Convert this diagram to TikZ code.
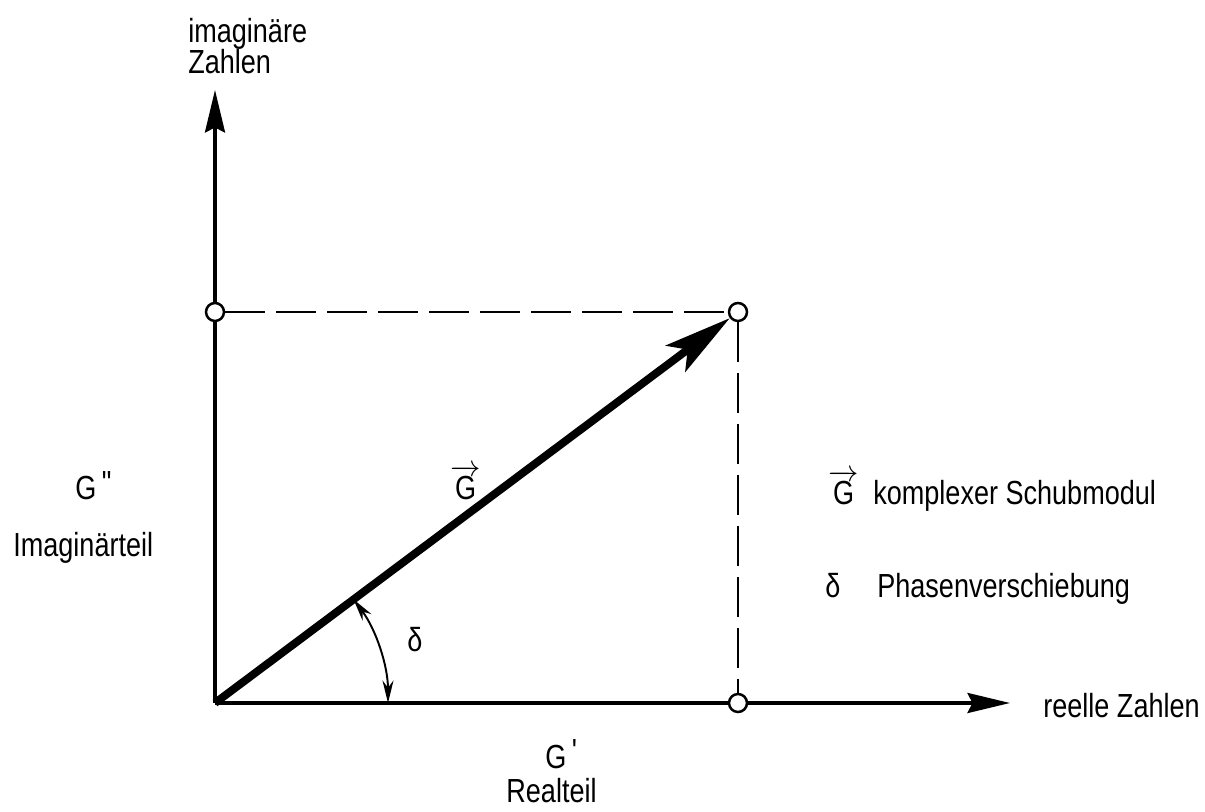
\documentclass[tikz,border=0pt]{standalone}
\usepackage{amsmath}
\usepackage{fontspec}
\setmainfont[FakeStretch=0.81]{Liberation Sans}
\usepackage{tikz}
\usetikzlibrary{arrows.meta, backgrounds}
\tikzset{
  axis/.style={line width=2pt, -{Stealth[length=0.85cm, width=0.4cm, inset=0.1cm]}},
  phasor/.style={line width=4.5pt, -{Stealth[length=1.35cm, width=0.65cm, inset=0.3cm]}},
  proj/.style={line width=1.5pt, dash pattern=on 0.8cm off 0.22cm},
  anglearc/.style={line width=1.1pt,
                   {Stealth[length=0.45cm, width=0.22cm]}-{Stealth[length=0.45cm, width=0.22cm]}},
  knot/.style={circle, draw, line width=1.4pt, fill=white, minimum size=0.36cm, inner sep=0pt},
  lbl/.style={anchor=base west, inner sep=0pt},
}

\begin{document}
\begin{tikzpicture}[font=\fontsize{19}{18}\selectfont]
  \useasboundingbox (-4.30,-2.16) rectangle (19.80,14.06);
  % axes and points
  \coordinate (O) at (0,0);
  \coordinate (xend) at (15.9,0);
  \coordinate (yend) at (0,12.26);
  \node[knot] (P) at (10.46,7.82) {};
  \node[knot] (Pim) at (0,7.82) {};
  \node[knot] (Pre) at (10.46,0) {};
  \begin{scope}[on background layer]
    \draw[axis] (O) -- (xend);
    \draw[axis] (O) -- (yend);
    \draw[proj] (Pim) -- (P);
    \draw[proj] (P) -- (Pre);
    \draw[phasor] (O) -- (P);
  \end{scope}
  \draw[anglearc] (O) ++(36.78:3.46) arc[start angle=36.78, end angle=0, radius=3.46];
  % labels
  \node[lbl, align=left] (ylab) at (-0.54,12.58) {imaginäre\\Zahlen};
  \node[lbl] (xlab) at (16.56,-0.28) {reelle Zahlen};
  \node[lbl] (Gim) at (-2.8,4.06) {G\,\raisebox{0.3ex}{\textquotedbl}};
  \node[lbl] (imlab) at (-4.04,2.92) {Imaginärteil};
  \node[lbl] (Gre) at (6.6,-1.30) {G\,\raisebox{0.3ex}{\textquotesingle}};
  \node[anchor=base, inner sep=0pt] (relab) at (6.73,-1.98) {Realteil};
  \node[lbl] (Gvec) at (4.7,4.06) {$\overrightarrow{\text{G}}$};
  \node[lbl] (delta) at (3.84,1.02) {δ};
  % legend
  \node[lbl] (legG) at (12.26,3.96) {$\overrightarrow{\text{G}}$};
  \node[lbl] (legGtxt) at (13.16,3.96) {komplexer Schubmodul};
  \node[lbl] (legd) at (12.2,2.12) {δ};
  \node[lbl] (legdtxt) at (13.24,2.12) {Phasenverschiebung};
\end{tikzpicture}
\end{document}
